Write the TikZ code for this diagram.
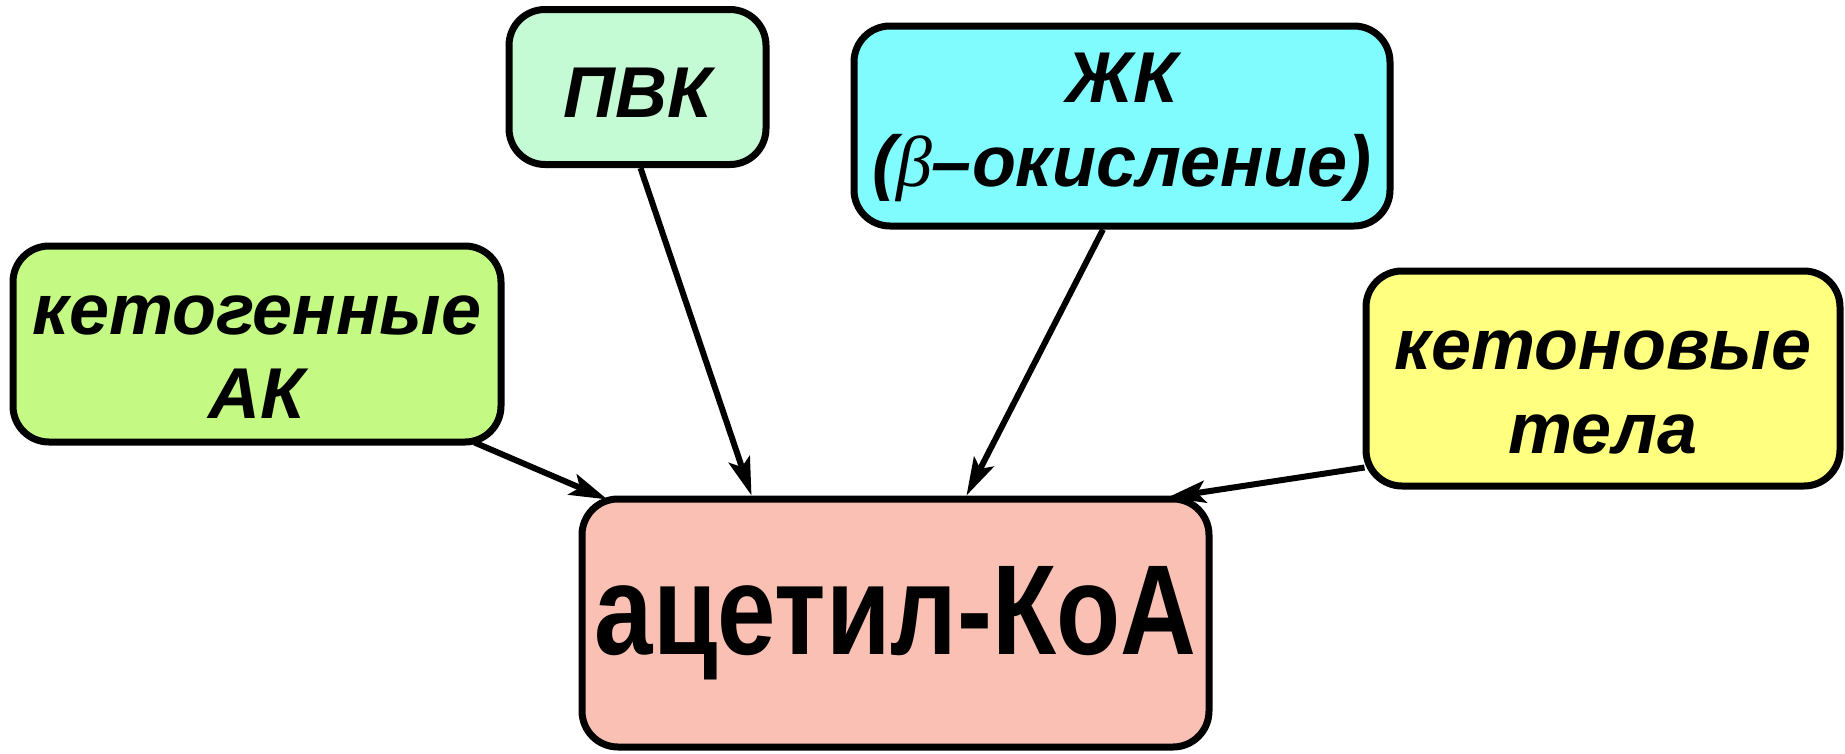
\documentclass[tikz,border=0pt]{standalone}
\usepackage{fontspec}
\setmainfont{Liberation Sans}
\newfontfamily\narrowfont[FakeStretch=0.82]{Liberation Sans}
\newfontfamily\betafont{Liberation Serif}
\usetikzlibrary{arrows.meta,calc}
\definecolor{cpvk}{RGB}{196,250,212}
\definecolor{czhk}{RGB}{128,252,255}
\definecolor{cketogen}{RGB}{196,250,132}
\definecolor{cketon}{RGB}{255,255,128}
\definecolor{cacetyl}{RGB}{250,192,180}
\newcommand{\lowered}[2]{\raisebox{-#1}[\height][\depth]{#2}}
\tikzset{
  box/.style={draw=black, line width=7pt, rounded corners=36pt, inner sep=0pt,
    align=center, font=\fontsize{72}{84}\selectfont\bfseries\itshape},
  arr/.style={line width=6pt, -{Stealth[length=38pt,width=22pt,inset=8pt]}}
}
\begin{document}
\begin{tikzpicture}[x=1pt,y=-1pt]
\useasboundingbox (0,0) rectangle (1845,753);
\fill[white] (0,0) rectangle (1845,753);
\node[box, fill=cpvk, minimum width=257pt, minimum height=155pt] (pvk) at (637.5,87) {\lowered{6pt}{ПВК}};
\node[box, fill=czhk, minimum width=536pt, minimum height=200pt] (zhk) at (1122,126) {\lowered{2pt}{\begin{tabular}{@{}c@{}}ЖК\\({\betafont\mdseries\itshape β}–окисление)\end{tabular}}};
\node[box, fill=cketogen, minimum width=488pt, minimum height=196pt] (ketogen) at (257,344) {\lowered{16pt}{\begin{tabular}{@{}c@{}}кетогенные\\АК\end{tabular}}};
\node[box, fill=cketon, minimum width=474pt, minimum height=215pt] (keton) at (1603,378.5) {\lowered{16pt}{\begin{tabular}{@{}c@{}}кетоновые\\тела\end{tabular}}};
\node[box, fill=cacetyl, minimum width=627pt, minimum height=248pt, font=\fontsize{128}{130}\narrowfont\bfseries] (acetyl) at (895.5,623) {ацетил-КоА};
\draw[arr] ($(pvk.south)+(3,0)$) -- ($(acetyl.north west)+(173,0)$);
\draw[arr] ($(zhk.south)+(-19,0)$) -- ($(acetyl.north west)+(388,0)$);
\draw[arr] ($(ketogen.south east)+(-30,-3)$) -- ($(acetyl.north west)+(29,4)$);
\draw[arr] ($(keton.south west)+(2,-22)$) -- ($(acetyl.north east)+(-45,2)$);
\end{tikzpicture}
\end{document}
